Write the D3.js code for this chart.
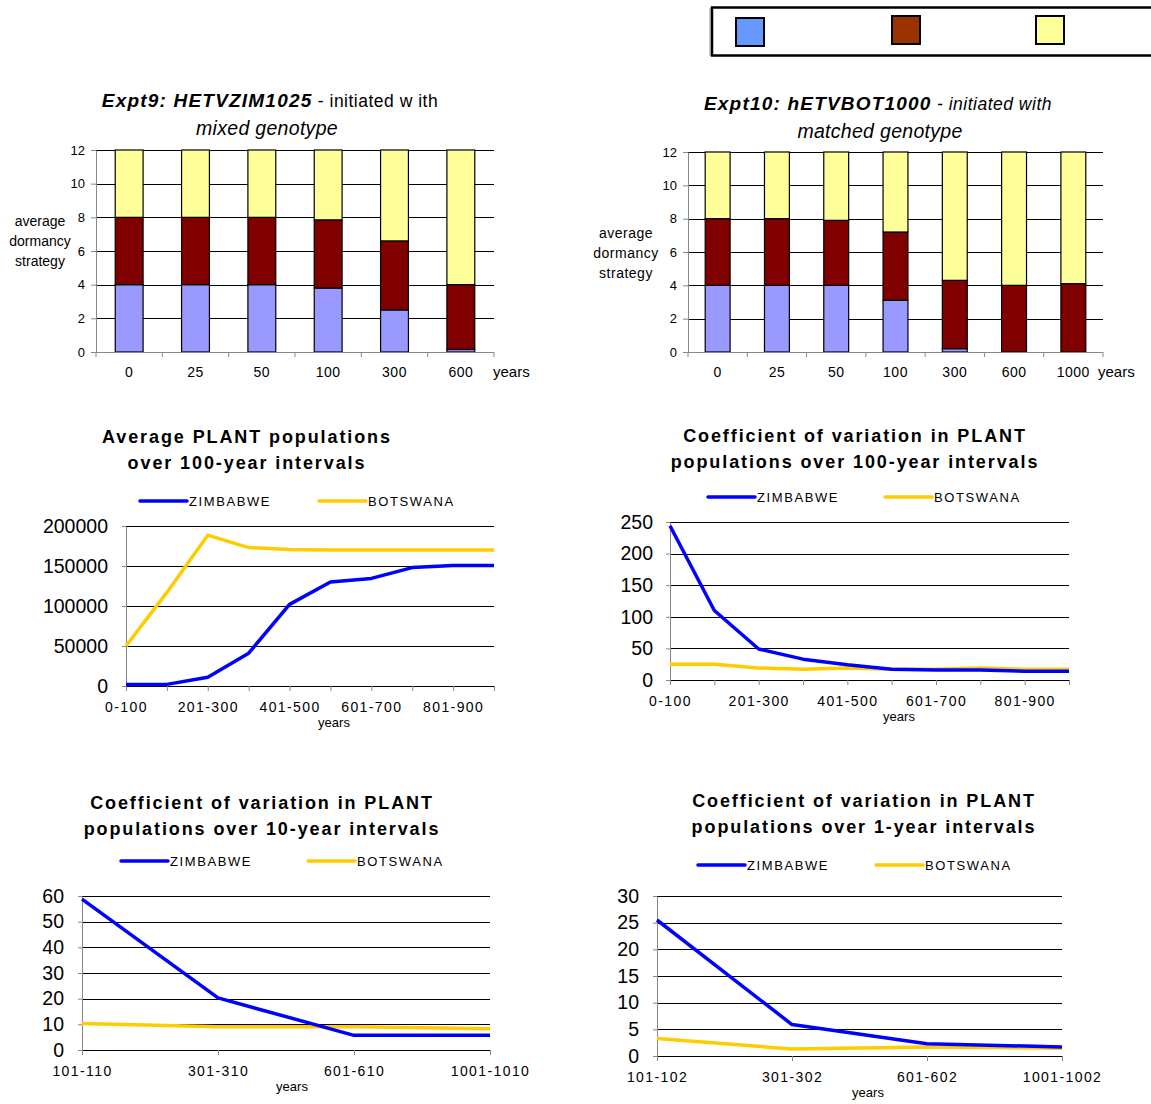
<!DOCTYPE html>
<html><head><meta charset="utf-8">
<script src="https://cdn.jsdelivr.net/npm/d3@7/dist/d3.min.js"></script>
<style>
body{margin:0;background:#fff;}
svg{display:block;font-family:"Liberation Sans",Arial,sans-serif;}
</style></head>
<body><svg id="c" width="1151" height="1104"></svg>
<script>
// ---------- DATA ----------
const stackKeys = ["low","mid","high"];
const stackColors = ["#9999FF","#800000","#FFFF99"];
const legendColors = ["#6699FF","#993300","#FFFF99"];

const expt9Years = ["0","25","50","100","300","600"];
const expt9Low  = [4, 4, 4, 3.8, 2.5, 0.15];
const expt9Mid  = [4, 4, 4, 4.05, 4.1, 3.85];
const expt9High = [4, 4, 4, 4.15, 5.4, 8];

const expt10Years = ["0","25","50","100","300","600","1000"];
const expt10Low  = [4, 4, 4, 3.1, 0.2, 0, 0];
const expt10Mid  = [4, 4, 3.9, 4.1, 4.1, 4, 4.1];
const expt10High = [4, 4, 4.1, 4.8, 7.7, 8, 7.9];

const barYTicks = [0,2,4,6,8,10,12];

const intervals100 = ["0-100","101-200","201-300","301-400","401-500","501-600","601-700","701-800","801-900","901-1000"];
const avgZim = [2000, 2000, 11000, 41000, 102000, 130000, 134500, 148000, 150500, 150500];
const avgBot = [50000, 117000, 188500, 173000, 170500, 170000, 170000, 170000, 170000, 170000];
const avgTicks = [0, 50000, 100000, 150000, 200000];

const cv100Zim = [244, 110, 49, 33, 24, 17, 16, 16, 14, 14];
const cv100Bot = [25, 25, 19, 17, 19, 17, 17, 19, 17, 17];
const cv100Ticks = [0, 50, 100, 150, 200, 250];

const intervals10 = ["101-110","301-310","601-610","1001-1010"];
const cv10Zim = [58.8, 20.3, 5.7, 5.7];
const cv10Bot = [10.3, 9.1, 9.1, 8.3];
const cv10Ticks = [0,10,20,30,40,50,60];

const intervals1 = ["101-102","301-302","601-602","1001-1002"];
const cv1Zim = [25.5, 5.9, 2.3, 1.7];
const cv1Bot = [3.3, 1.3, 1.7, 1.45];
const cv1Ticks = [0,5,10,15,20,25,30];

const seriesNames = ["ZIMBABWE","BOTSWANA"];
const seriesColors = ["#0000FF","#FFCC00"];

// ---------- DRAW ----------
const svg = d3.select("#c");

// top legend box
(function(){
  const g = svg.append("g");
  g.append("line").attr("x1",710).attr("x2",710).attr("y1",8).attr("y2",56).attr("stroke","#999").attr("stroke-width",1);
  g.append("rect").attr("x",712).attr("y",7.5).attr("width",460).attr("height",48)
    .attr("fill","#fff").attr("stroke","#000").attr("stroke-width",2.5);
  const lx = d3.scalePoint().domain([0,1,2]).range([750,1050]);
  const ly = [18,16,16];
  g.selectAll("rect.sw").data(legendColors).join("rect").attr("class","sw")
    .attr("x",(d,i)=>lx(i)-14 + (i===1?6:0)).attr("y",(d,i)=>ly[i])
    .attr("width",28).attr("height",28).attr("fill",d=>d)
    .attr("stroke","#000").attr("stroke-width",2);
})();

function barChart(o){
  const g = svg.append("g");
  const data = o.cats.map((c,i)=>({cat:c, low:o.low[i], mid:o.mid[i], high:o.high[i]}));
  const x = d3.scaleBand().domain(o.cats).range([o.x0,o.x1]).paddingInner(0.58).paddingOuter(0.29);
  const y = d3.scaleLinear().domain([0,12]).range([o.y1,o.y0]);
  // grid
  g.selectAll("line.grid").data(barYTicks.filter(t=>t>0)).join("line")
    .attr("x1",o.x0).attr("x2",o.x1).attr("y1",d=>Math.round(y(d))+0.5).attr("y2",d=>Math.round(y(d))+0.5)
    .attr("stroke","#000").attr("stroke-width",1);
  const stack = d3.stack().keys(stackKeys)(data);
  stack.forEach((layer,li)=>{
    g.selectAll(null).data(layer).join("rect")
      .attr("x",d=>x(d.data.cat)).attr("width",x.bandwidth())
      .attr("y",d=>y(d[1])).attr("height",d=>Math.max(0,y(d[0])-y(d[1])))
      .attr("fill",stackColors[li]).attr("stroke","#000").attr("stroke-width",1.2);
  });
  // y axis
  const ya = d3.axisLeft(y).tickValues(barYTicks).tickSize(5).tickSizeOuter(0).tickPadding(6);
  const yg = g.append("g").attr("transform",`translate(${o.x0},0)`).call(ya);
  yg.select(".domain").attr("stroke","#888");
  yg.selectAll(".tick line").attr("stroke","#888");
  yg.selectAll("text").attr("font-size",13).attr("fill","#000").attr("font-family","Liberation Sans, Arial");
  // x axis
  const step = (o.x1-o.x0)/o.cats.length;
  g.append("line").attr("x1",o.x0).attr("x2",o.x1).attr("y1",o.y1+0.5).attr("y2",o.y1+0.5).attr("stroke","#888");
  g.selectAll("line.xt").data(d3.range(o.cats.length+1)).join("line")
    .attr("x1",d=>o.x0+d*step).attr("x2",d=>o.x0+d*step).attr("y1",o.y1).attr("y2",o.y1+5).attr("stroke","#888");
  g.selectAll("text.xl").data(o.cats).join("text")
    .attr("x",d=>x(d)+x.bandwidth()/2).attr("y",o.y1+25).attr("text-anchor","middle")
    .attr("font-size",14).attr("letter-spacing",0.5).text(d=>d);
  g.append("text").attr("x",o.yearsX).attr("y",o.y1+25).attr("font-size",15).text("years");
  // y label
  const yl = g.append("text").attr("text-anchor","middle").attr("font-size",14).attr("letter-spacing",o.ylSpacing||0);
  ["average","dormancy","strategy"].forEach((t,i)=>yl.append("tspan").attr("x",o.ylX).attr("y",o.ylY+i*20).text(t));
  // title
  const t1 = g.append("text").attr("x",o.tX).attr("y",o.tY).attr("text-anchor","middle");
  t1.append("tspan").attr("font-weight","bold").attr("font-style","italic").attr("font-size",19)
    .attr("letter-spacing",1.2).text(o.tBold);
  t1.append("tspan").attr("font-style",o.tRestItalic?"italic":"normal").attr("font-size",17.5)
    .attr("letter-spacing",0.5).text(o.tRest);
  g.append("text").attr("x",o.t2X).attr("y",o.tY+28).attr("text-anchor","middle").attr("font-size",19.5)
    .attr("font-style","italic").attr("letter-spacing",0.3).text(o.t2);
}

barChart({cats:expt9Years, low:expt9Low, mid:expt9Mid, high:expt9High,
  x0:96, x1:494, y0:150, y1:352, yearsX:493, ylX:40, ylY:226,
  tX:270, tY:107, tBold:"Expt9: HETVZIM1025", tRest:"  - initiated w ith", tRestItalic:false,
  t2X:267, t2:"mixed genotype"});

barChart({cats:expt10Years, low:expt10Low, mid:expt10Mid, high:expt10High,
  x0:688, x1:1103, y0:152, y1:352, yearsX:1098, ylX:626, ylY:238, ylSpacing:0.5,
  tX:878, tY:110, tBold:"Expt10: hETVBOT1000", tRest:"  - initiated with", tRestItalic:true,
  t2X:880, t2:"matched genotype"});

function lineChart(o){
  const g = svg.append("g");
  const x = d3.scalePoint().domain(o.cats).range([o.x0,o.x1]);
  const y = d3.scaleLinear().domain([0,o.ticks[o.ticks.length-1]]).range([o.y1,o.y0]);
  // grid
  g.selectAll("line.grid").data(o.ticks.filter(t=>t>0)).join("line")
    .attr("x1",o.x0).attr("x2",o.x1).attr("y1",d=>Math.round(y(d))+0.5).attr("y2",d=>Math.round(y(d))+0.5)
    .attr("stroke","#000").attr("stroke-width",1);
  // y axis
  const ya = d3.axisLeft(y).tickValues(o.ticks).tickSize(4).tickSizeOuter(0).tickPadding(o.yPad||12).tickFormat(d3.format("d"));
  const yg = g.append("g").attr("transform",`translate(${o.x0},0)`).call(ya);
  yg.select(".domain").attr("stroke","#888");
  yg.selectAll(".tick line").attr("stroke","#888");
  yg.selectAll("text").attr("font-size",19.5).attr("fill","#000").attr("font-family","Liberation Sans, Arial");
  // x axis
  const xa = d3.axisBottom(x).tickSize(5).tickSizeOuter(0).tickPadding(11)
    .tickFormat((d,i)=> (i % o.labelEvery === 0) ? d : "");
  const xg = g.append("g").attr("transform",`translate(0,${o.y1})`).call(xa);
  xg.select(".domain").attr("stroke","#000");
  xg.selectAll(".tick line").attr("stroke","#888");
  xg.selectAll("text").attr("font-size",14).attr("fill","#000").attr("letter-spacing",1.4)
    .attr("font-family","Liberation Sans, Arial");
  g.append("text").attr("x",o.yearsX).attr("y",o.y1+41).attr("text-anchor","middle").attr("font-size",13).text("years");
  // lines
  const line = d3.line().x((d,i)=>x(o.cats[i])).y(d=>y(d));
  [o.bot,o.zim].forEach((s,k)=>{
    const idx = k===0?1:0;
    g.append("path").attr("d",line(s)).attr("fill","none").attr("stroke",seriesColors[idx])
      .attr("stroke-width",3.5).attr("stroke-linejoin","round");
  });
  // legend
  seriesNames.forEach((n,i)=>{
    const lx = o.legX[i];
    g.append("line").attr("x1",lx).attr("x2",lx+47).attr("y1",o.legY).attr("y2",o.legY)
      .attr("stroke",seriesColors[i]).attr("stroke-width",3.5).attr("stroke-linecap","round");
    g.append("text").attr("x",lx+49).attr("y",o.legY+5).attr("font-size",13).attr("letter-spacing",1.6).text(n);
  });
  // title
  o.title.forEach((t,i)=>g.append("text").attr("x",o.tX).attr("y",o.tY+i*26).attr("text-anchor","middle")
    .attr("font-size",18).attr("font-weight","bold").attr("letter-spacing",1.9).text(t));
}

lineChart({cats:intervals100, zim:avgZim, bot:avgBot, ticks:avgTicks, labelEvery:2,
  x0:126, x1:494, y0:526, y1:686, yearsX:334, legX:[140,319], legY:501, yPad:14,
  tX:247, tY:443, title:["Average PLANT populations","over 100-year intervals"]});

lineChart({cats:intervals100, zim:cv100Zim, bot:cv100Bot, ticks:cv100Ticks, labelEvery:2,
  x0:670, x1:1069, y0:522, y1:680, yearsX:899, legX:[708,885], legY:497, yPad:13,
  tX:855, tY:442, title:["Coefficient of variation in PLANT","populations over 100-year intervals"]});

lineChart({cats:intervals10, zim:cv10Zim, bot:cv10Bot, ticks:cv10Ticks, labelEvery:1,
  x0:82, x1:490, y0:896, y1:1050, yearsX:292, legX:[121,308], legY:861, yPad:14,
  tX:262, tY:809, title:["Coefficient of variation in PLANT","populations over 10-year intervals"]});

lineChart({cats:intervals1, zim:cv1Zim, bot:cv1Bot, ticks:cv1Ticks, labelEvery:1,
  x0:657, x1:1062, y0:896, y1:1056, yearsX:868, legX:[698,876], legY:865, yPad:14,
  tX:864, tY:807, title:["Coefficient of variation in PLANT","populations over 1-year intervals"]});
</script></body></html>
